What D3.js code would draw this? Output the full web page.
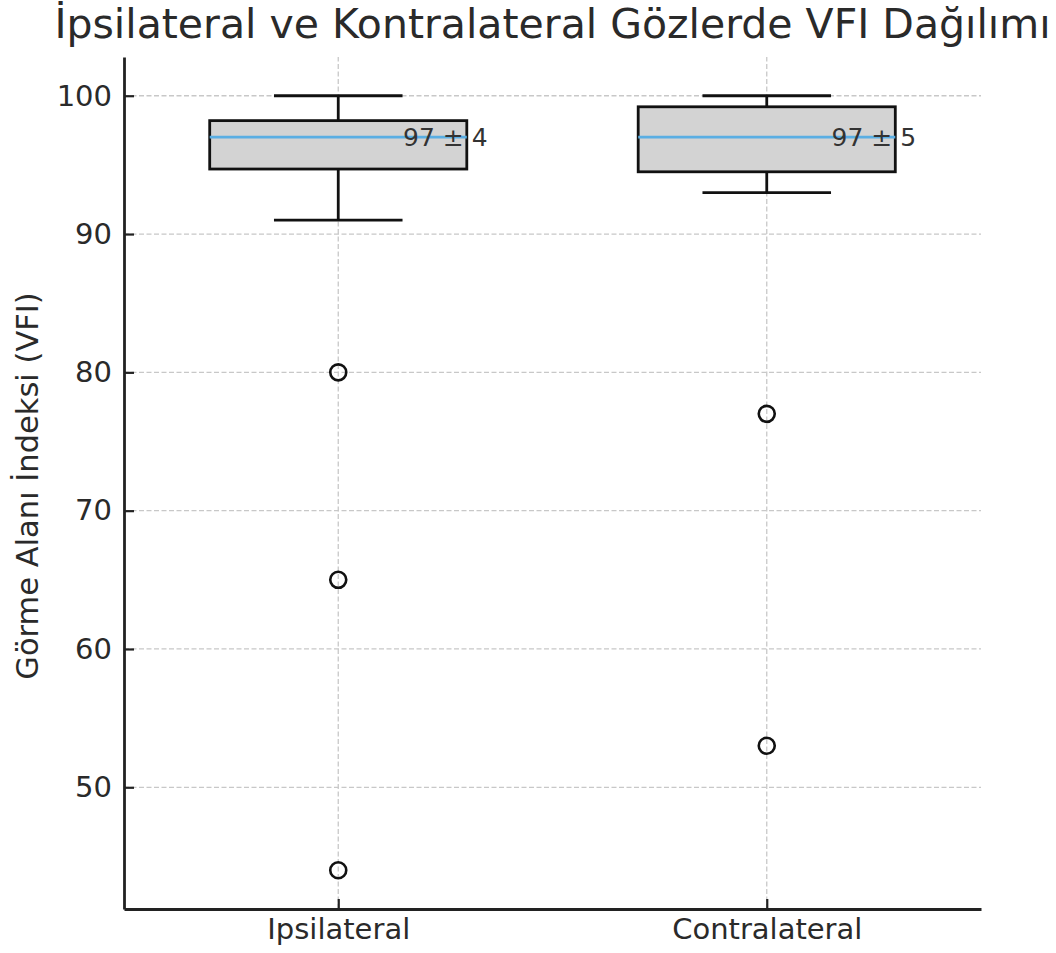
<!DOCTYPE html>
<html>
<head>
<meta charset="utf-8">
<script src="https://cdn.jsdelivr.net/npm/d3@7"></script>
<style>
  body { margin: 0; background: #fff; }
  svg text { font-family: "DejaVu Sans", sans-serif; }
</style>
</head>
<body>
<div class="chart"></div>
<script>
var w = 1056,
  h = 953;

// values
var categories = ['Ipsilateral', 'Contralateral'];
var q1 = [94.7, 94.5];
var q3 = [98.2, 99.2];
var medians = [97, 97];
var whiskerLow = [91, 93];
var whiskerHigh = [100, 100];
var outliers = [[80, 65, 44], [77, 53]];
var annotations = ['97 ± 4', '97 ± 5'];
var yTicks = [50, 60, 70, 80, 90, 100];

var margin = { left: 124, right: 75, top: 57, bottom: 44 };

var svg = d3.select('.chart')
  .append('svg')
  .attr('width', w)
  .attr('height', h);

var x = d3.scaleLinear()
  .domain([0.5, 2.5])
  .range([margin.left, w - margin.right]);

var y = d3.scaleLinear()
  .domain([41.2, 102.8])
  .range([h - margin.bottom, margin.top]);

var boxW = x(0.6) - x(0),
  capW = x(0.3) - x(0);

// grid
var grid = svg.append('g')
  .attr('stroke', '#c8c8c8')
  .attr('stroke-width', 1.3)
  .attr('stroke-dasharray', '5,2.5');

grid.selectAll('.hgrid')
  .data(yTicks)
  .enter()
  .append('line')
  .attr('x1', x.range()[0])
  .attr('x2', x.range()[1])
  .attr('y1', function (d) { return y(d); })
  .attr('y2', function (d) { return y(d); });

grid.selectAll('.vgrid')
  .data(categories)
  .enter()
  .append('line')
  .attr('x1', function (d, i) { return x(i + 1); })
  .attr('x2', function (d, i) { return x(i + 1); })
  .attr('y1', y.range()[0])
  .attr('y2', y.range()[1]);

// boxes
var boxes = svg.selectAll('.box')
  .data(categories)
  .enter()
  .append('g')
  .attr('class', 'box');

// whiskers
boxes.append('line')
  .attr('x1', function (d, i) { return x(i + 1); })
  .attr('x2', function (d, i) { return x(i + 1); })
  .attr('y1', function (d, i) { return y(whiskerHigh[i]); })
  .attr('y2', function (d, i) { return y(whiskerLow[i]); })
  .attr('stroke', '#111')
  .attr('stroke-width', 2.8);

['low', 'high'].forEach(function (k) {
  boxes.append('line')
    .attr('x1', function (d, i) { return x(i + 1) - capW / 2; })
    .attr('x2', function (d, i) { return x(i + 1) + capW / 2; })
    .attr('y1', function (d, i) { return y(k === 'low' ? whiskerLow[i] : whiskerHigh[i]); })
    .attr('y2', function (d, i) { return y(k === 'low' ? whiskerLow[i] : whiskerHigh[i]); })
    .attr('stroke', '#111')
    .attr('stroke-width', 2.8);
});

boxes.append('rect')
  .attr('x', function (d, i) { return x(i + 1) - boxW / 2; })
  .attr('y', function (d, i) { return y(q3[i]); })
  .attr('width', boxW)
  .attr('height', function (d, i) { return y(q1[i]) - y(q3[i]); })
  .attr('fill', '#d3d3d3')
  .attr('stroke', '#111')
  .attr('stroke-width', 2.8);

boxes.append('line')
  .attr('x1', function (d, i) { return x(i + 1) - boxW / 2; })
  .attr('x2', function (d, i) { return x(i + 1) + boxW / 2; })
  .attr('y1', function (d, i) { return y(medians[i]); })
  .attr('y2', function (d, i) { return y(medians[i]); })
  .attr('stroke', '#5aaee3')
  .attr('stroke-width', 2.8);

// outliers
boxes.selectAll('circle')
  .data(function (d, i) { return outliers[i].map(function (v) { return { i: i, v: v }; }); })
  .enter()
  .append('circle')
  .attr('cx', function (d) { return x(d.i + 1); })
  .attr('cy', function (d) { return y(d.v); })
  .attr('r', 8)
  .attr('fill', 'none')
  .attr('stroke', '#111')
  .attr('stroke-width', 2.6);

// mean ± sd labels
boxes.append('text')
  .attr('x', function (d, i) { return x(i + 1.25); })
  .attr('y', function (d, i) { return y(medians[i]); })
  .attr('dy', '0.36em')
  .attr('text-anchor', 'middle')
  .attr('font-size', 25)
  .attr('fill', '#333')
  .text(function (d, i) { return annotations[i]; });

// axes
var yAxis = svg.append('g')
  .attr('transform', 'translate(' + margin.left + ',0)')
  .call(d3.axisLeft(y).tickValues(yTicks).tickSizeInner(-10).tickSizeOuter(0).tickPadding(12));

var xAxis = svg.append('g')
  .attr('transform', 'translate(0,' + (h - margin.bottom) + ')')
  .call(d3.axisBottom(x).tickValues([1, 2]).tickFormat(function (d) { return categories[d - 1]; })
    .tickSizeInner(-10).tickSizeOuter(0).tickPadding(9));

[yAxis, xAxis].forEach(function (a) {
  a.select('.domain').attr('stroke', '#222').attr('stroke-width', 2.8);
  a.selectAll('.tick line').attr('stroke', '#222').attr('stroke-width', 2.2);
  a.selectAll('.tick text').attr('font-size', 29).attr('fill', '#2a2a2a')
    .attr('font-family', '"DejaVu Sans", sans-serif');
});

// title and label
svg.append('text')
  .attr('x', (x.range()[0] + x.range()[1]) / 2)
  .attr('y', 38)
  .attr('text-anchor', 'middle')
  .attr('font-size', 41)
  .attr('fill', '#2a2a2a')
  .text('İpsilateral ve Kontralateral Gözlerde VFI Dağılımı');

svg.append('text')
  .attr('transform', 'translate(38,' + 486 + ') rotate(-90)')
  .attr('text-anchor', 'middle')
  .attr('font-size', 30.5)
  .attr('fill', '#2a2a2a')
  .text('Görme Alanı İndeksi (VFI)');
</script>
</body>
</html>
